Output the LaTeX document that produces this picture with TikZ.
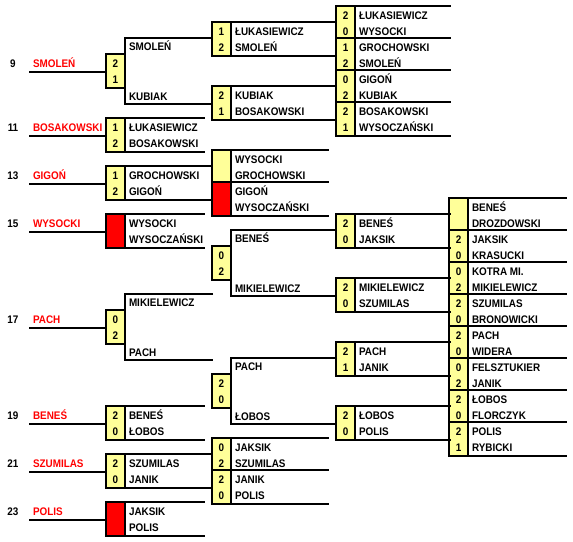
\documentclass[tikz,border=0pt]{standalone}
\usepackage{fontspec}
\setmainfont{Liberation Sans}[FakeStretch=0.9]
\usetikzlibrary{calc}
\definecolor{cyel}{HTML}{FFFF99}
\definecolor{cred}{HTML}{FF0000}
\tikzset{
  every picture/.style={x=1pt, y=-1pt, line width=2pt},
  cell/.style={font=\bfseries\fontsize{11}{13}\selectfont, text height=8pt, text depth=0pt, inner sep=0pt},
  score/.style={cell, minimum width=17pt, minimum height=16pt, fill=#1},
  score/.default=cyel,
  pname/.style={cell, anchor=west, xshift=3pt},
  seedname/.style={cell, anchor=west, text=cred},
  seednum/.style={cell},
}

\begin{document}
\begin{tikzpicture}
  \useasboundingbox (0,0) rectangle (573,541);
  % column marks
  \coordinate (numcol) at (13,0);
  \coordinate (namecol) at (32,0);
  \coordinate (startB) at (29,0);
  \coordinate (endC) at (205,0);
  \coordinate (linkC) at (213,0);
  \coordinate (endE) at (329,0);
  \coordinate (linkE) at (337,0);
  \coordinate (endF) at (451,0);
  \coordinate (endG) at (567,0);

  % score boxes: id / left x / first row / scores / fill
  \foreach \id/\cx/\r/\sa/\sb/\f in {
      c3/107/3/2/1/cyel, c7/107/7/1/2/cyel, c10/107/10/1/2/cyel, c13/107/13/{}/{}/cred,
      c19/107/19/0/2/cyel, c25/107/25/2/0/cyel, c28/107/28/2/0/cyel, c31/107/31/{}/{}/cred,
      e1/213/1/1/2/cyel, e5/213/5/2/1/cyel, e9/213/9/{}/{}/cyel, e11/213/11/{}/{}/cred,
      e15/213/15/0/2/cyel, e23/213/23/2/0/cyel, e27/213/27/0/2/cyel, e29/213/29/2/0/cyel,
      f0/337/0/2/0/cyel, f2/337/2/1/2/cyel, f4/337/4/0/2/cyel, f6/337/6/2/1/cyel,
      f13/337/13/2/0/cyel, f17/337/17/2/0/cyel, f21/337/21/2/1/cyel, f25/337/25/2/0/cyel,
      g12/450/12/{}/{}/cyel, g14/450/14/2/0/cyel, g16/450/16/0/2/cyel, g18/450/18/2/0/cyel,
      g20/450/20/2/0/cyel, g22/450/22/0/2/cyel, g24/450/24/2/0/cyel, g26/450/26/2/1/cyel} {
    \node[score=\f] (\id a) at (\cx+8.5, {15+16*\r}) {\sa};
    \node[score=\f] (\id b) at (\cx+8.5, {31+16*\r}) {\sb};
    \draw (\id a.north west) rectangle (\id b.south east);
  }

  % pairs with names beside the box (last=1: draw the line under the pair too)
  \foreach \id/\na/\nb/\e/\last in {
      c7/ŁUKASIEWICZ/BOSAKOWSKI/endC/1, c10/GROCHOWSKI/GIGOŃ/linkC/1,
      c13/WYSOCKI/WYSOCZAŃSKI/endC/1, c25/BENEŚ/ŁOBOS/endC/1,
      c28/SZUMILAS/JANIK/linkC/1, c31/JAKSIK/POLIS/endC/1,
      e1/ŁUKASIEWICZ/SMOLEŃ/linkE/1, e5/KUBIAK/BOSAKOWSKI/linkE/1,
      e9/WYSOCKI/GROCHOWSKI/endE/0, e11/GIGOŃ/WYSOCZAŃSKI/endE/1,
      e27/JAKSIK/SZUMILAS/endE/0, e29/JANIK/POLIS/endE/1,
      f0/ŁUKASIEWICZ/WYSOCKI/endF/0, f2/GROCHOWSKI/SMOLEŃ/endF/0,
      f4/GIGOŃ/KUBIAK/endF/0, f6/BOSAKOWSKI/WYSOCZAŃSKI/endF/1,
      f13/BENEŚ/JAKSIK/endF/1, f17/MIKIELEWICZ/SZUMILAS/endF/1,
      f21/PACH/JANIK/endF/1, f25/ŁOBOS/POLIS/endF/1,
      g12/BENEŚ/DROZDOWSKI/endG/0, g14/JAKSIK/KRASUCKI/endG/0,
      g16/KOTRA MI./MIKIELEWICZ/endG/0, g18/SZUMILAS/BRONOWICKI/endG/0,
      g20/PACH/WIDERA/endG/0, g22/FELSZTUKIER/JANIK/endG/0,
      g24/ŁOBOS/FLORCZYK/endG/0, g26/POLIS/RYBICKI/endG/1} {
    \node[pname] (\id an) at (\id a.east) {\na};
    \node[pname] (\id bn) at (\id b.east) {\nb};
    \draw (\id a.north east) -- (\id a.north east -| \e);
    \ifnum\last=1
      \draw (\id b.south east) -- (\id b.south east -| \e);
    \fi
  }

  % brackets: winners moved up a round
  \foreach \id/\na/\nb/\e in {
      c3/SMOLEŃ/KUBIAK/linkC, c19/MIKIELEWICZ/PACH/linkC,
      e15/BENEŚ/MIKIELEWICZ/linkE, e23/PACH/ŁOBOS/linkE} {
    \coordinate (\id t) at ([yshift=16pt]\id a.north east);
    \coordinate (\id u) at ([yshift=-16pt]\id b.south east);
    \draw (\id t -| \e) -- (\id t) -- (\id u) -- (\id u -| \e);
    \node[pname] (\id an) at ([yshift=-8pt]\id t) {\na};
    \node[pname] (\id bn) at ([yshift=8pt]\id u) {\nb};
  }

  % seeds
  \foreach \id/\num/\nm in {
      c3/9/SMOLEŃ, c7/11/BOSAKOWSKI, c10/13/GIGOŃ, c13/15/WYSOCKI,
      c19/17/PACH, c25/19/BENEŚ, c28/21/SZUMILAS, c31/23/POLIS} {
    \node[seednum] (\id s) at (numcol |- \id a) {\num};
    \node[seedname] (\id m) at (namecol |- \id a) {\nm};
    \draw (\id a.south west) -- (\id a.south west -| startB);
  }
\end{tikzpicture}
\end{document}
